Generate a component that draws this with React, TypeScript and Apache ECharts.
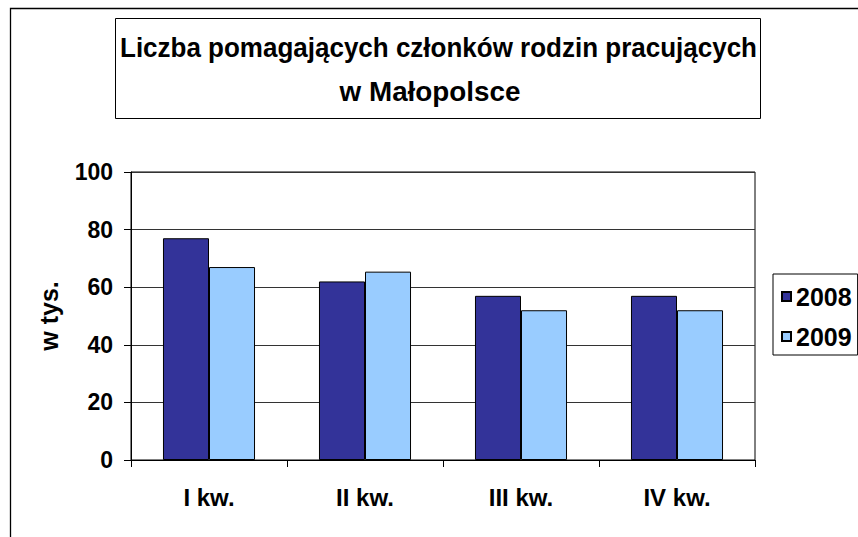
import React, { useEffect, useRef } from "react";
import * as echarts from "echarts";

const categories = ["I kw.", "II kw.", "III kw.", "IV kw."];
const seriesNames = ["2008", "2009"];
const values2008 = [77, 62, 57, 57];
const values2009 = [67, 65.4, 52, 52];
const yTicks = { min: 0, max: 100, interval: 20 };
const titleLines = ["Liczba pomagających członków rodzin pracujących", "w Małopolsce"];
const yAxisName = "w tys.";

const FONT = "'Liberation Sans', Arial, sans-serif";

export default function App() {
  const ref = useRef<HTMLDivElement>(null);
  useEffect(() => {
    if (!ref.current) return;
    const chart = echarts.init(ref.current, undefined, { renderer: "svg" });
    const titleStyle = {
      fontFamily: FONT,
      fontWeight: "bold",
      fontSize: 26,
      fill: "#000",
      textAlign: "center",
      textVerticalAlign: "middle",
    };
    chart.setOption({
      animation: false,
      backgroundColor: "#fff",
      legend: {
        data: seriesNames,
        orient: "vertical",
        left: 773,
        top: 274,
        padding: [10, 6, 6, 8],
        itemGap: 15,
        itemWidth: 9,
        itemHeight: 9,
        icon: "rect",
        borderColor: "#000",
        borderWidth: 1,
        backgroundColor: "#fff",
        textStyle: {
          fontFamily: FONT,
          fontWeight: "bold",
          fontSize: 25,
          color: "#000",
        },
      },
      grid: {
        left: 131,
        top: 172,
        width: 624,
        height: 288,
        show: true,
        borderColor: "#000",
        borderWidth: 1,
        containLabel: false,
      },
      xAxis: {
        type: "category",
        data: categories,
        axisLine: { show: true, lineStyle: { color: "#000", width: 1 } },
        axisTick: { show: true, length: 7, lineStyle: { color: "#000" } },
        axisLabel: {
          fontFamily: FONT,
          fontWeight: "bold",
          fontSize: 24,
          color: "#000",
          margin: 25,
        },
      },
      yAxis: {
        type: "value",
        min: yTicks.min,
        max: yTicks.max,
        interval: yTicks.interval,
        name: yAxisName,
        nameLocation: "middle",
        nameRotate: 90,
        nameGap: 70,
        nameTextStyle: {
          fontFamily: FONT,
          fontWeight: "bold",
          fontSize: 25,
          color: "#000",
        },
        axisLine: { show: true, lineStyle: { color: "#000", width: 1 } },
        axisTick: { show: true, length: 7, lineStyle: { color: "#000" } },
        splitLine: { show: true, lineStyle: { color: "#333", width: 1 } },
        axisLabel: {
          fontFamily: FONT,
          fontWeight: "bold",
          fontSize: 23,
          color: "#000",
          margin: 18,
        },
      },
      series: [
        {
          name: seriesNames[0],
          type: "bar",
          data: values2008,
          barGap: "0%",
          barCategoryGap: "41%",
          itemStyle: { color: "#333399", borderColor: "#000", borderWidth: 1 },
        },
        {
          name: seriesNames[1],
          type: "bar",
          data: values2009,
          barGap: "0%",
          barCategoryGap: "41%",
          itemStyle: { color: "#99CCFF", borderColor: "#000", borderWidth: 1 },
        },
      ],
      graphic: [
        {
          type: "polyline",
          silent: true,
          shape: { points: [[10.5, 537], [10.5, 8.5], [858, 8.5]] },
          style: { stroke: "#000", lineWidth: 1.3, fill: "none" },
        },
        {
          type: "rect",
          silent: true,
          shape: { x: 115.5, y: 18.5, width: 645, height: 100 },
          style: { stroke: "#000", lineWidth: 1, fill: "#fff" },
        },
        {
          type: "text",
          silent: true,
          x: 438.5,
          y: 47.7,
          scaleY: 1.075,
          style: { ...titleStyle, text: titleLines[0] },
        },
        {
          type: "text",
          silent: true,
          x: 430,
          y: 91.5,
          scaleX: 1.07,
          scaleY: 1.075,
          style: { ...titleStyle, text: titleLines[1] },
        },
      ],
    });
    return () => chart.dispose();
  }, []);
  return (
    <div
      ref={ref}
      style={{ position: "absolute", left: 0, top: 0, width: 858, height: 537 }}
    />
  );
}
